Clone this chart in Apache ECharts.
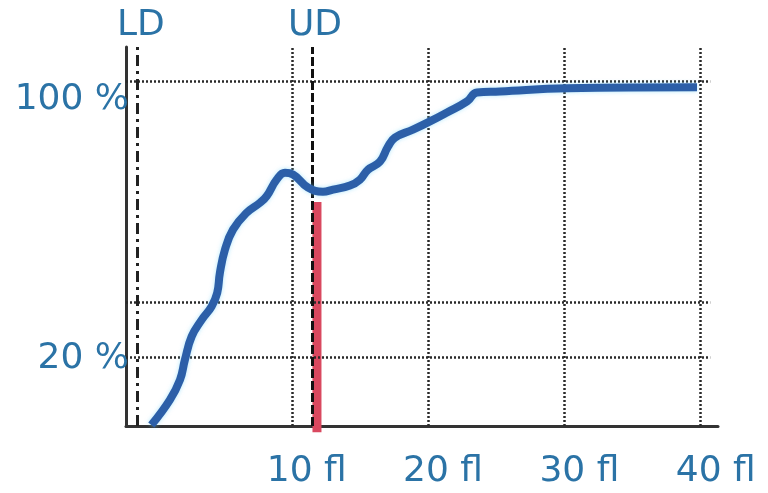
<!DOCTYPE html>
<html>
<head>
<meta charset="utf-8">
<script src="https://cdn.jsdelivr.net/npm/echarts@6/dist/echarts.min.js"></script>
<style>
  html, body { margin: 0; padding: 0; background: #ffffff; }
  #chart { width: 768px; height: 493px; }
</style>
</head>
<body>
<div id="chart"></div>
<script>
// Cumulative distribution curve: size in fl (x) vs cumulative percent (y)
const curveX = [-0.3, 1.06, 1.8, 2.16, 2.66, 3.39, 4.12, 4.53, 4.73, 5.1, 5.69, 6.69, 7.67, 8.16, 8.89, 9.5, 10.09, 11.19, 12.29, 13.02, 14.27, 15.0, 15.59, 16.47, 17.06, 17.57, 18.89, 20.14, 21.39, 22.86, 23.59, 25.27, 30.19, 39.73];
const curveY = [0.3, 7.6, 13.4, 19.2, 26.0, 30.8, 34.7, 38.6, 44.5, 51.2, 57.0, 61.9, 64.8, 66.7, 71.5, 73.5, 73.0, 69.2, 68.0, 68.6, 69.8, 71.5, 74.4, 76.7, 81.1, 83.7, 86.0, 88.4, 91.0, 94.2, 96.8, 97.1, 98.0, 98.3];

// Axis tick labels
const xTickValues = [10, 20, 30, 40];
const yTickValues = [20, 100];

// Dotted reference grid
const xGridValues = [10, 20, 30, 40];
const yGridValues = [20, 35.8, 100];

// Lower / upper discriminator positions (fl)
const ldValue = -1.36;
const udValue = 11.48;

// Red marker at the upper discriminator
const markerX = 11.85;
const markerBottom = -1.8;
const markerTop = 65;

const xMin = -2.16, xMax = 41.27;
const yMin = 0, yMax = 110;
const gridEndX = 40.7;

const textColor = '#2b73a6';
const font = 'DejaVu Sans';

const gridLines = [];
xGridValues.forEach(v => gridLines.push([{ coord: [v, yMin] }, { coord: [v, yMax] }]));
yGridValues.forEach(v => gridLines.push([{ coord: [xMin, v] }, { coord: [gridEndX, v] }]));

const chart = echarts.init(document.getElementById('chart'), null, { renderer: 'canvas' });

chart.setOption({
  backgroundColor: '#ffffff',
  animation: false,
  grid: { left: 126, right: 50, top: 47, bottom: 67, containLabel: false },
  xAxis: {
    type: 'value',
    min: xMin,
    max: xMax,
    axisLine: { show: true, onZero: false, lineStyle: { color: '#333', width: 3 } },
    axisTick: { show: false },
    splitLine: { show: false },
    axisLabel: {
      customValues: xTickValues,
      formatter: v => v + ' fl',
      color: textColor,
      fontFamily: font,
      fontSize: 36,
      margin: 28,
      padding: [0, 0, 0, 30]
    }
  },
  yAxis: {
    type: 'value',
    min: yMin,
    max: yMax,
    axisLine: { show: true, onZero: false, lineStyle: { color: '#333', width: 3 } },
    axisTick: { show: false },
    splitLine: { show: false },
    axisLabel: {
      customValues: yTickValues,
      formatter: v => v === 100 ? '{lo|' + v + ' %}' : '{n|' + v + ' %}',
      color: textColor,
      fontFamily: font,
      fontSize: 36,
      margin: -3,
      rich: {
        n: { color: textColor, fontFamily: font, fontSize: 36, padding: [4, 0, 0, 0] },
        lo: { color: textColor, fontFamily: font, fontSize: 36, padding: [36, 0, 0, 0] }
      }
    }
  },
  series: [
    {
      name: 'grid',
      type: 'line',
      data: [],
      silent: true,
      z: 1,
      markLine: {
        silent: true,
        symbol: 'none',
        label: { show: false },
        lineStyle: { color: '#2a2a2a', width: 2.5, type: [2, 2] },
        data: gridLines
      }
    },
    {
      name: 'marker',
      type: 'line',
      data: [[markerX, markerBottom], [markerX, markerTop]],
      clip: false,
      symbol: 'none',
      z: 3,
      lineStyle: { color: '#d9485f', width: 9, cap: 'butt' }
    },
    {
      name: 'discriminators',
      type: 'line',
      data: [],
      silent: true,
      z: 4,
      markLine: {
        silent: true,
        symbol: 'none',
        label: {
          show: true,
          position: 'end',
          distance: 3,
          color: textColor,
          fontFamily: font,
          fontSize: 36
        },
        data: [
          [
            { coord: [ldValue, yMin], lineStyle: { color: '#222', width: 3, type: [11, 5, 3, 5] } },
            { coord: [ldValue, yMax], label: { formatter: 'LD', offset: [4, 0] } }
          ],
          [
            { coord: [udValue, yMin], lineStyle: { color: '#111', width: 3, type: [9, 3] } },
            { coord: [udValue, yMax], label: { formatter: 'UD', offset: [3, 0] } }
          ]
        ]
      }
    },
    {
      name: 'distribution',
      type: 'line',
      data: curveX.map((x, i) => [x, curveY[i]]),
      smooth: 0.45,
      symbol: 'none',
      z: 5,
      lineStyle: {
        color: '#2c5fa8',
        width: 8,
        shadowColor: 'rgba(110, 210, 250, 0.55)',
        shadowBlur: 4
      }
    }
  ]
});
</script>
</body>
</html>
